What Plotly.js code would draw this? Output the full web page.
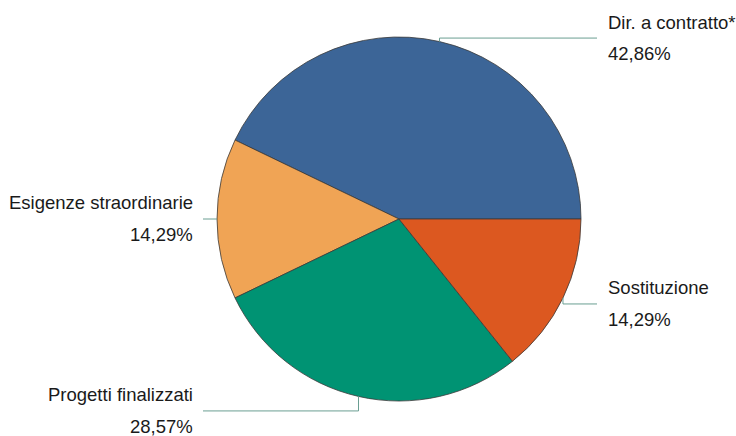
<!DOCTYPE html>
<html>
<head>
<meta charset="utf-8">
<script src="https://cdn.plot.ly/plotly-3.0.1.min.js"></script>
<style>html,body{margin:0;padding:0;background:#fff;}#chart{width:736px;height:436px;}</style>
</head>
<body>
<div id="chart"></div>
<script>
const categories = ["Dir. a contratto*", "Esigenze straordinarie", "Progetti finalizzati", "Sostituzione"];
const counts = [3, 1, 2, 1];
const colors = ["#3C6597", "#F0A455", "#009373", "#DC5820"];

const W = 736, H = 436;
const cx = 399, cy = 219, R = 182;
// vertical offset (px) from slice edge point to the horizontal leader segment
const elbowDy = [-3.5, 0, 14.5, 6];
const rightLineEnd = 597, leftLineEnd = 203;
const rightTextX = 606, leftTextX = 195;

const total = counts.reduce((a, b) => a + b, 0);
const px = x => x / W;
const py = y => 1 - y / H;

const shapes = [];
const annotations = [];
let cum = 0;
counts.forEach((v, i) => {
  const mid = 2 * Math.PI * (cum + v / 2) / total;
  cum += v;
  const ex = cx + R * Math.cos(mid);
  const ey = cy - R * Math.sin(mid);
  const ly = ey + elbowDy[i];
  const right = Math.cos(mid) > 0.01;
  const endX = right ? rightLineEnd : leftLineEnd;
  const lineStyle = {color: "#6A9E92", width: 1};
  shapes.push({type: "line", xref: "paper", yref: "paper", x0: px(ex), y0: py(ey), x1: px(ex), y1: py(ly), line: lineStyle});
  shapes.push({type: "line", xref: "paper", yref: "paper", x0: px(ex), y0: py(ly), x1: px(endX), y1: py(ly), line: lineStyle});
  const pct = (100 * v / total).toFixed(2).replace(".", ",") + "%";
  const tx = right ? rightTextX : leftTextX;
  const anchor = right ? "left" : "right";
  const font = {family: "Liberation Sans, Arial, sans-serif", size: 18.5, color: "#1a1a1a"};
  annotations.push({xref: "paper", yref: "paper", x: px(tx), y: py(ly - 16), text: categories[i], showarrow: false, xanchor: anchor, yanchor: "middle", font: font});
  annotations.push({xref: "paper", yref: "paper", x: px(tx), y: py(ly + 15.5), text: pct, showarrow: false, xanchor: anchor, yanchor: "middle", font: font});
});

// Plotly counterclockwise pies place the first slice between rotation and rotation + slice angle;
// make the first slice start at 3 o'clock and run counterclockwise.
const rotation = 90 - 360 * counts[0] / total;

const trace = {
  type: "pie",
  labels: categories,
  values: counts,
  sort: false,
  direction: "counterclockwise",
  rotation: rotation,
  textinfo: "none",
  hoverinfo: "label+percent",
  marker: {colors: colors, line: {color: "#3a3a3a", width: 0.8}},
  domain: {x: [(cx - R) / W, (cx + R) / W], y: [(H - cy - R) / H, (H - cy + R) / H]},
  showlegend: false
};

const layout = {
  width: W, height: H,
  margin: {l: 0, r: 0, t: 0, b: 0},
  paper_bgcolor: "#fff",
  plot_bgcolor: "#fff",
  showlegend: false,
  shapes: shapes,
  annotations: annotations
};

Plotly.newPlot("chart", [trace], layout, {displayModeBar: false, staticPlot: true});
</script>
</body>
</html>
